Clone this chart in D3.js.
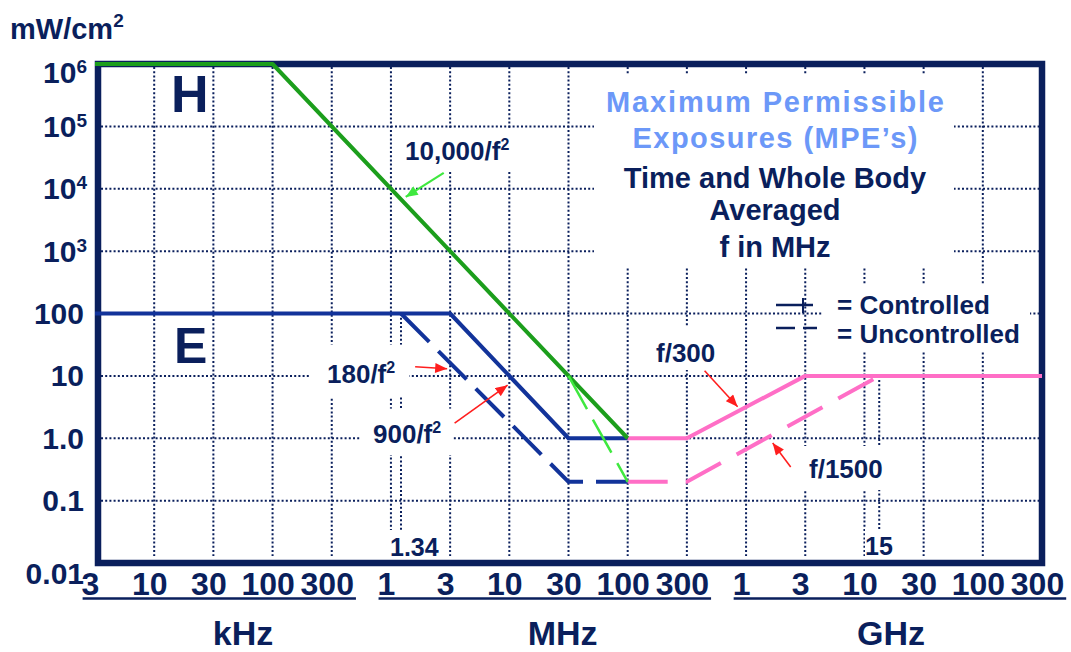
<!DOCTYPE html>
<html><head><meta charset="utf-8">
<script src="https://cdn.jsdelivr.net/npm/d3@7"></script>
<style>
body{margin:0;background:#fff;}
svg{display:block;font-family:"Liberation Sans",Arial,Helvetica,sans-serif;font-weight:bold;}
</style></head><body>
<svg id="chart" width="1071" height="652"></svg>
<script>
// ---------------- data ----------------
// frequency in MHz, power density in mW/cm^2
const xTickValues = [0.003,0.01,0.03,0.1,0.3,1,3,10,30,100,300,1000,3000,10000,30000,100000,300000];
const xTickLabels = ["3","10","30","100","300","1","3","10","30","100","300","1","3","10","30","100","300"];
const unitLabels = ["kHz","MHz","GHz"];
const unitTickIndex = [[0,4],[5,10],[11,16]];
const yTickValues = [0.01,0.1,1,10,100,1e3,1e4,1e5,1e6];
const yTickLabels = ["0.01","0.1","1.0","10","100","10^3","10^4","10^5","10^6"];
const markerFreqs = [1.34, 15000];
const markerLabels = ["1.34","15"];
const markerLevels = [100, 10];

const hControlled   = [[0.003,1e6],[0.1,1e6],[100,1]];
const hUncontrolled = [[30,10],[100,0.2]];
const eControlled   = [[0.003,100],[3,100],[30,1],[100,1]];
const eUncontrolled = [[1.34,100],[30,0.2],[100,0.2]];
const pControlled   = [[100,1],[300,1],[3000,10],[300000,10]];
const pUncontrolled = [[100,0.2],[300,0.2],[15000,10]];

// annotation labels and arrow tips (tips in data units)
const curveLabels = ["10,000/f^2","180/f^2","900/f^2","f/300","f/1500"];
const arrowTips = [[1.5,7400],[2.9,13],[9.8,7.1],[900,3.2],[1900,0.84]];

// ---------------- setup ----------------
const NAVY='#0a1f5c', BLUE='#12339a', GREEN='#1c9e1c', LIME='#3fe83f', PINK='#ff6ec6', RED='#ff1e1e', LIGHTBLUE='#6c98f8';
const X0=95, X1=1042, YTOP=64, YBOT=563, FRAMEL=98;
const svg=d3.select('#chart');
const step=(X1-X0)/(xTickValues.length-1);
const x=d3.scaleLinear().domain(xTickValues).range(xTickValues.map((d,i)=>X0+i*step));
const y=d3.scaleLog().domain([yTickValues[0],yTickValues[yTickValues.length-1]]).range([YBOT,YTOP]);

svg.append('rect').attr('width',1071).attr('height',652).attr('fill','#fff');
const defs=svg.append('defs');
function mk(id,color){
  defs.append('marker').attr('id',id).attr('viewBox','0 0 12 10').attr('refX',12).attr('refY',5)
   .attr('markerWidth',13).attr('markerHeight',10).attr('markerUnits','userSpaceOnUse').attr('orient','auto')
   .append('path').attr('d','M0,0L12,5L0,10z').attr('fill',color);
}
mk('arrRed',RED); mk('arrLime',LIME);

// ---------------- grid ----------------
const gridG=svg.append('g').attr('stroke',NAVY).attr('stroke-width',2).attr('stroke-dasharray','2,2.2');
gridG.selectAll('line.h').data(yTickValues.slice(1,-1)).join('line').attr('class','h')
  .attr('x1',FRAMEL+3).attr('x2',X1-3).attr('y1',d=>y(d)).attr('y2',d=>y(d));
gridG.selectAll('line.v').data(xTickValues.slice(1,-1)).join('line').attr('class','v')
  .attr('x1',d=>x(d)).attr('x2',d=>x(d)).attr('y1',YTOP+3).attr('y2',YBOT-7);
gridG.selectAll('line.m').data(markerFreqs).join('line').attr('class','m')
  .attr('x1',d=>x(d)).attr('x2',d=>x(d)).attr('y1',(d,i)=>y(markerLevels[i])).attr('y2',532);

const boxG=svg.append('g').attr('fill','#fff');

// ---------------- frame ----------------
svg.append('rect').attr('x',FRAMEL).attr('y',YTOP).attr('width',X1-FRAMEL).attr('height',YBOT-YTOP)
  .attr('fill','none').attr('stroke',NAVY).attr('stroke-width',6.5);

// ---------------- curves ----------------
const line=d3.line().x(d=>x(d[0])).y(d=>y(d[1]));
const cg=svg.append('g').attr('fill','none').attr('stroke-linejoin','round');
cg.append('path').datum(eControlled).attr('d',line).attr('stroke',BLUE).attr('stroke-width',4);
cg.append('path').datum(eUncontrolled).attr('d',line).attr('stroke',BLUE).attr('stroke-width',4).attr('stroke-dasharray','40,13');
cg.append('path').datum(pControlled).attr('d',line).attr('stroke',PINK).attr('stroke-width',4);
cg.append('path').datum(pUncontrolled).attr('d',line).attr('stroke',PINK).attr('stroke-width',4).attr('stroke-dasharray','40,18');
cg.append('path').datum(hControlled).attr('d',line).attr('stroke',GREEN).attr('stroke-width',4);
cg.append('path').datum(hUncontrolled).attr('d',line).attr('stroke',LIME).attr('stroke-width',2.5).attr('stroke-dasharray','38,12');

// ---------------- axes ----------------
const xAxisG=svg.append('g').attr('transform','translate(0,595)')
  .call(d3.axisBottom(x).tickValues(xTickValues).tickSize(0).tickFormat((d,i)=>xTickLabels[i]));
xAxisG.select('.domain').remove();
xAxisG.attr('font-family',null).attr('font-size',32).attr('fill',NAVY);
xAxisG.selectAll('text').attr('y',0).attr('dy',0).attr('x',-5).attr('fill',NAVY).attr('font-size',32);
const xTexts=xAxisG.selectAll('text').nodes();
unitTickIndex.forEach((r,k)=>{
  const b0=xTexts[r[0]].getBBox(), b1=xTexts[r[1]].getBBox();
  const t0=xTexts[r[0]].parentNode.transform.baseVal.consolidate().matrix.e;
  const t1=xTexts[r[1]].parentNode.transform.baseVal.consolidate().matrix.e;
  svg.append('line').attr('x1',t0+b0.x+1).attr('x2',t1+b1.x+b1.width+2).attr('y1',598.5).attr('y2',598.5)
    .attr('stroke',NAVY).attr('stroke-width',2.5);
});
const unitCenters=[X0+2.5*step, X0+7.9*step, X0+13.45*step];
svg.selectAll('text.unit').data(unitLabels).join('text').attr('class','unit')
  .attr('x',(d,i)=>unitCenters[i]).attr('y',645).attr('text-anchor','middle')
  .attr('font-size',34).attr('fill',NAVY).text(d=>d);

const yAxisG=svg.append('g').attr('transform','translate(84,0)')
  .call(d3.axisLeft(y).tickValues(yTickValues).tickSize(0).tickFormat(''));
yAxisG.select('.domain').remove();
yAxisG.attr('font-family',null).attr('font-size',30);
yAxisG.selectAll('text').each(function(d,i){
  const t=d3.select(this).attr('fill',NAVY).attr('font-size',30).attr('dy',0).attr('text-anchor','end');
  const lab=yTickLabels[i];
  let off=10;
  if(i===0) off=20; if(i===yTickLabels.length-1) off=18;
  t.attr('y',off);
  if(lab.includes('^')){
    const [b,e]=lab.split('^');
    t.attr('x',3);
    t.append('tspan').text(b);
    t.append('tspan').attr('font-size',19).attr('dy',-10).text(e);
  } else { t.attr('x',0).text(lab); }
});

// y unit
const yu=svg.append('text').attr('x',10).attr('y',39).attr('font-size',29).attr('fill',NAVY);
yu.append('tspan').text('mW/cm');
yu.append('tspan').attr('font-size',19).attr('dy',-12).text('2');

// ---------------- labels ----------------
const textG=svg.append('g').attr('fill',NAVY);
textG.append('text').attr('x',171).attr('y',112).attr('font-size',52).text('H');
textG.append('text').attr('x',174).attr('y',363).attr('font-size',50).text('E');

function addBox(node,pad){
  const b=node.getBBox();
  boxG.append('rect').attr('x',b.x-pad[0]).attr('y',b.y-pad[1]).attr('width',b.width+pad[0]+pad[2]).attr('height',b.height+pad[1]+pad[3]);
}
function supText(g,str,px,py,fs){
  const t=g.append('text').attr('x',px).attr('y',py).attr('font-size',fs);
  const parts=str.split('^');
  t.append('tspan').text(parts[0]);
  if(parts[1]) t.append('tspan').attr('font-size',Math.round(fs*0.6)).attr('dy',-fs*0.4).text(parts[1]);
  return t;
}
// curve label positions (layout) and arrow tail offsets
const labelPos=[[405,160],[327,383],[373,443],[656,362],[809,478]];
const labelPad=[[6,6,6,4],[18,14,14,8],[12,10,12,6],[6,12,6,2],[8,8,8,6]];
const tailOff=[[38,-24],[-32,-2],[-53,38],[-33,-36],[18,24]];
const arrowColor=[LIME,RED,RED,RED,RED];
curveLabels.forEach((lab,i)=>{
  const t=supText(textG,lab,labelPos[i][0],labelPos[i][1],26);
  addBox(t.node(),labelPad[i]);
});
const ag=svg.append('g');
arrowTips.forEach((p,i)=>{
  const tx=x(p[0]), ty=y(p[1]);
  ag.append('line').attr('x1',tx+tailOff[i][0]).attr('y1',ty+tailOff[i][1]).attr('x2',tx).attr('y2',ty)
    .attr('stroke',arrowColor[i]).attr('stroke-width',i===0?2.2:1.6)
    .attr('marker-end',`url(#${i===0?'arrLime':'arrRed'})`);
});
// marker frequency labels
const mPos=[[390,556,4],[865,555,0]];
markerLabels.forEach((lab,i)=>{
  const t=textG.append('text').attr('x',mPos[i][0]).attr('y',mPos[i][1]).attr('font-size',25).text(lab);
  addBox(t.node(),[mPos[i][2],3,mPos[i][2],2]);
});

// title block
const titleLines=[
  {t:'Maximum Permissible',c:LIGHTBLUE,y:112,len:338},
  {t:'Exposures (MPE\u2019s)',c:LIGHTBLUE,y:148,len:285},
  {t:'Time and Whole Body',c:NAVY,y:188},
  {t:'Averaged',c:NAVY,y:220},
  {t:'f in MHz',c:NAVY,y:257}
];
const titleG=textG.append('g');
titleLines.forEach(l=>{
  const t=titleG.append('text').attr('x',775).attr('y',l.y).attr('text-anchor','middle').attr('font-size',29).attr('fill',l.c).text(l.t);
  if(l.len) t.attr('textLength',l.len).attr('lengthAdjust','spacing');
});
addBox(titleG.node(),[12,11,10,5]);

// legend
const legG=textG.append('g');
legG.append('text').attr('x',837).attr('y',314).attr('font-size',25).attr('textLength',153).attr('lengthAdjust','spacingAndGlyphs').text('= Controlled');
legG.append('text').attr('x',837).attr('y',343).attr('font-size',25).attr('textLength',183).attr('lengthAdjust','spacingAndGlyphs').text('= Uncontrolled');
addBox(legG.node(),[14,6,10,4]);
const ls=svg.append('g').attr('stroke',NAVY).attr('stroke-width',2.5);
ls.append('line').attr('x1',776).attr('x2',813).attr('y1',305).attr('y2',305);
ls.append('line').attr('x1',803).attr('x2',803).attr('y1',298).attr('y2',313).attr('stroke-width',2);
ls.append('line').attr('x1',776).attr('x2',795).attr('y1',328).attr('y2',328);
ls.append('line').attr('x1',803).attr('x2',817).attr('y1',328).attr('y2',328);
</script>
</body></html>
